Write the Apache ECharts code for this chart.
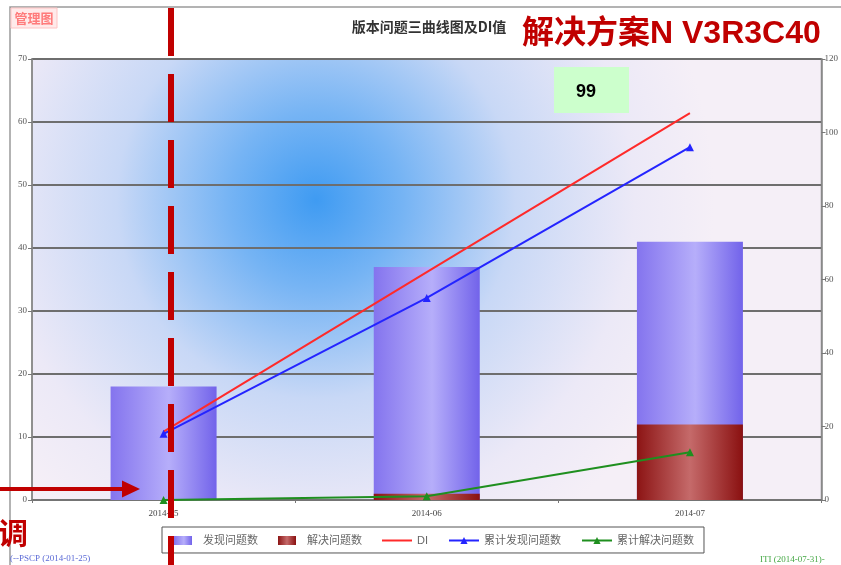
<!DOCTYPE html>
<html>
<head>
<meta charset="utf-8">
<script src="https://cdn.jsdelivr.net/npm/echarts@6/dist/echarts.min.js"></script>
<style>html,body{margin:0;padding:0;background:#fff;}#c{width:841px;height:565px;}</style>
</head>
<body>
<div id="c"></div>
<script>
const categories = ['2014-05', '2014-06', '2014-07'];
const foundIssues = [18, 37, 41];
const solvedIssues = [0, 1, 12];
const diValues = [18.6, 62, 105.3];
const cumFound = [18, 55, 96];
const cumSolved = [0, 1, 13];
const seriesNames = ['发现问题数', '解决问题数', 'DI', '累计发现问题数', '累计解决问题数'];
const leftAxis = { min: 0, max: 70, interval: 10 };
const rightAxis = { min: 0, max: 120, interval: 20 };

const chart = echarts.init(document.getElementById('c'), null, { renderer: 'canvas' });
const cjk = '"Liberation Sans", "Noto Sans CJK SC", sans-serif';
const axisFont = '"Liberation Serif", "DejaVu Serif", serif';

const legendData = seriesNames.map(function (n, i) {
  if (i < 2) return { name: n, icon: 'path://M0,0h18v9h-18z' };
  if (i === 2) return { name: n, icon: 'path://M0,0h30v2h-30z' };
  return { name: n };
});

const option = {
  backgroundColor: '#ffffff',
  animation: false,
  grid: {
    left: 32, right: 15, top: 59, bottom: 65,
    show: true,
    borderColor: '#8a8a8a', borderWidth: 1.5,
    backgroundColor: {
      type: 'radial', x: 0.36, y: 0.32, r: 0.9,
      colorStops: [
        { offset: 0, color: '#3f9bf2' },
        { offset: 0.22, color: '#76b4f4' },
        { offset: 0.5, color: '#c8d8f6' },
        { offset: 0.8, color: '#ece9f7' },
        { offset: 1, color: '#f5eff7' }
      ]
    }
  },
  legend: {
    data: legendData,
    left: 162, top: 527,
    borderColor: '#555', borderWidth: 1,
    padding: [8, 10, 7, 12],
    itemWidth: 30, itemHeight: 9, itemGap: 20,
    textStyle: { fontSize: 11, color: '#666', fontFamily: cjk },
    backgroundColor: '#fff'
  },
  xAxis: {
    type: 'category', data: categories,
    axisLine: { lineStyle: { color: '#777', width: 1.5 } },
    axisTick: { show: true, length: 3, lineStyle: { color: '#777' } },
    axisLabel: { fontSize: 9, color: '#444', margin: 9, fontFamily: axisFont }
  },
  yAxis: [
    {
      type: 'value', min: leftAxis.min, max: leftAxis.max, interval: leftAxis.interval,
      axisLine: { show: true, lineStyle: { color: '#888', width: 1.5 } },
      axisTick: { show: true, length: 4, lineStyle: { color: '#777' } },
      axisLabel: { fontSize: 9, color: '#555', margin: 5, fontFamily: axisFont },
      splitLine: { show: true, lineStyle: { color: '#6e6e6e', width: 2 } }
    },
    {
      type: 'value', min: rightAxis.min, max: rightAxis.max, interval: rightAxis.interval,
      position: 'right',
      axisLine: { show: true, lineStyle: { color: '#888', width: 1.5 } },
      axisTick: { show: true, length: 4, lineStyle: { color: '#777' } },
      axisLabel: { fontSize: 9, color: '#555', margin: 3, fontFamily: axisFont },
      splitLine: { show: false }
    }
  ],
  series: [
    {
      name: seriesNames[0], type: 'bar', data: foundIssues, barWidth: 106, z: 2,
      itemStyle: {
        color: {
          type: 'linear', x: 0, y: 0, x2: 1, y2: 0,
          colorStops: [
            { offset: 0, color: '#8474ee' },
            { offset: 0.55, color: '#b6aefa' },
            { offset: 1, color: '#7263ea' }
          ]
        }
      }
    },
    {
      name: seriesNames[1], type: 'bar', data: solvedIssues, barWidth: 106, barGap: '-100%', z: 2,
      itemStyle: {
        color: {
          type: 'linear', x: 0, y: 0, x2: 1, y2: 0,
          colorStops: [
            { offset: 0, color: '#8c1414' },
            { offset: 0.5, color: '#c56a6a' },
            { offset: 1, color: '#8a1010' }
          ]
        }
      }
    },
    {
      name: seriesNames[2], type: 'line', yAxisIndex: 1, data: diValues, z: 4,
      symbol: 'none', color: '#ff2a2a',
      lineStyle: { width: 2, color: '#ff2a2a' }
    },
    {
      name: seriesNames[3], type: 'line', yAxisIndex: 1, data: cumFound, z: 4,
      symbol: 'triangle', symbolSize: 8, color: '#2424ff',
      lineStyle: { width: 2, color: '#2424ff' }, itemStyle: { color: '#2424ff' }
    },
    {
      name: seriesNames[4], type: 'line', yAxisIndex: 1, data: cumSolved, z: 4,
      symbol: 'triangle', symbolSize: 8, color: '#1f8f1f',
      lineStyle: { width: 2, color: '#1f8f1f' }, itemStyle: { color: '#1f8f1f' }
    }
  ],
  graphic: [
    { type: 'polyline', z: 1, silent: true,
      shape: { points: [[10, 565], [10, 7], [841, 7]] },
      style: { stroke: '#9a9a9a', lineWidth: 1.5, fill: null } },
    { type: 'rect', z: 10, shape: { x: 11, y: 8, width: 46, height: 20 },
      style: { fill: '#ffeaea', stroke: '#ffc4c4', lineWidth: 1 } },
    { type: 'text', z: 11, style: { text: '管理图', x: 34, y: 18, align: 'center', verticalAlign: 'middle',
      fill: '#ff7b7b', font: 'bold 13px "Noto Sans CJK SC", sans-serif' } },
    { type: 'text', z: 11, style: { text: '版本问题三曲线图及DI值', x: 429, y: 27, align: 'center', verticalAlign: 'middle',
      fill: '#333', font: 'bold 14px "Noto Sans CJK SC", serif' } },
    { type: 'text', z: 20, style: { text: '解决方案N V3R3C40', x: 522, y: 34, align: 'left', verticalAlign: 'middle',
      fill: '#c00000', font: 'bold 32px "Liberation Sans", "Noto Sans CJK SC", sans-serif' } },
    { type: 'rect', z: 20, shape: { x: 554, y: 67, width: 75, height: 46 },
      style: { fill: '#ccffcc' } },
    { type: 'text', z: 21, style: { text: '99', x: 586, y: 92, align: 'center', verticalAlign: 'middle',
      fill: '#000', font: 'bold 18px "Liberation Sans", sans-serif' } },
    { type: 'text', z: 20, style: { text: '(--PSCP (2014-01-25)', x: 10, y: 559, align: 'left', verticalAlign: 'middle',
      fill: '#5b6ad6', font: '9px "Liberation Serif", serif' } },
    { type: 'text', z: 20, style: { text: 'ITI (2014-07-31)-', x: 760, y: 560, align: 'left', verticalAlign: 'middle',
      fill: '#45a845', font: '9px "Liberation Serif", serif' } },
    { type: 'line', z: 30, silent: true, shape: { x1: 171, y1: 8, x2: 171, y2: 565 },
      style: { stroke: '#c00000', lineWidth: 6, lineDash: [48, 18] } },
    { type: 'line', z: 30, silent: true, shape: { x1: 0, y1: 489, x2: 124, y2: 489 },
      style: { stroke: '#c00000', lineWidth: 4 } },
    { type: 'polygon', z: 30, silent: true, shape: { points: [[122, 480.5], [140, 489], [122, 497.5]] },
      style: { fill: '#c00000' } },
    { type: 'text', z: 30, style: { text: '调', x: -2, y: 533, align: 'left', verticalAlign: 'middle',
      fill: '#c00000', font: 'bold 30px "Noto Sans CJK SC", sans-serif' } }
  ]
};
chart.setOption(option);
</script>
</body>
</html>
